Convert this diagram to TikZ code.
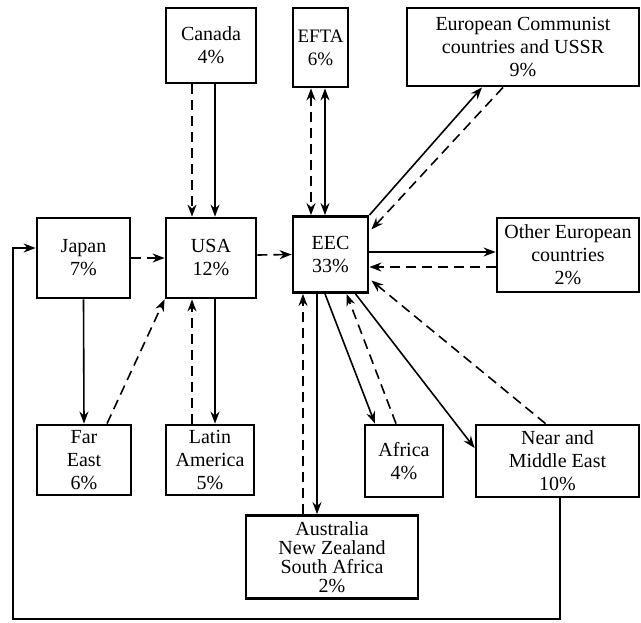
\documentclass[tikz,border=0pt]{standalone}
\usepackage{fontspec}
\setmainfont{Liberation Serif}
\usepackage{tikz}
\usetikzlibrary{arrows.meta,calc,positioning}

\tikzset{
  region/.style={draw, line width=1.4pt, align=center, inner sep=0pt,
    font=\fontsize{10}{11.5}\selectfont},
  flow/.style={-{Stealth[length=6pt,width=4.5pt]}, line width=0.8pt},
  flowd/.style={flow, dash pattern=on 5pt off 3pt},
  twoway/.style={{Stealth[length=6pt,width=4.5pt]}-{Stealth[length=6pt,width=4.5pt]}, line width=0.8pt},
}

\begin{document}
\begin{tikzpicture}[x=0.5pt, y=-0.5pt]
  \useasboundingbox (0,0) rectangle (641,622);

  % top row
  \node[region, minimum width=45pt, minimum height=37.5pt] (canada) at (211,45.5) {Canada\\4\%};
  \node[region, minimum width=27.5pt, minimum height=39.5pt, font=\fontsize{9.5}{11.5}\selectfont] (efta) at (320.5,47.5) {EFTA\\6\%};
  \node[region, minimum width=116pt, minimum height=39pt] (eurcomm) at (523,47) {European Communist\\countries and USSR\\9\%};

  % middle row
  \node[region, minimum width=46.5pt, minimum height=40pt] (japan) at (83.5,258) {Japan\\7\%};
  \node[region, minimum width=45pt, minimum height=40pt] (usa) at (211,258) {USA\\12\%};
  \node[region, minimum width=37.5pt, minimum height=38pt] (eec) at (330.5,254.5) {EEC\\33\%};
  \node[region, minimum width=71pt, minimum height=37pt] (other) at (568,255) {Other European\\countries\\2\%};

  % bottom rows
  \node[region, minimum width=47pt, minimum height=35pt] (fareast) at (84,460) {Far\\East\\6\%};
  \node[region, minimum width=44pt, minimum height=35pt] (latin) at (210,460) {Latin\\America\\5\%};
  \node[region, minimum width=39pt, minimum height=36pt] (africa) at (404,461) {Africa\\4\%};
  \node[region, minimum width=81.5pt, minimum height=36pt] (neareast) at (557.5,461) {Near and\\Middle East\\10\%};
  \node[region, minimum width=86pt, minimum height=41.5pt, font=\fontsize{10}{9.5}\selectfont] (aus) at (332,557) {Australia\\New Zealand\\South Africa\\2\%};

  \coordinate (loopcorner) at (13,619);

  % links around USA
  \draw[flowd] ($(canada.south)+(-19,0)$) -- ($(usa.north)+(-19,0)$);
  \draw[flow] ($(canada.south)+(4,0)$) -- ($(usa.north)+(4,0)$);
  \draw[flowd] (japan.east) -- (usa.west);
  \draw[flowd] ($(usa.east)+(0,-3)$) -- (eec.west);
  \draw[flow] (japan.south) -- (fareast.north);
  \draw[flowd] ($(fareast.north)+(23,0)$) -- (usa.south west);
  \draw[flowd] ($(latin.north)+(-18,0)$) -- ($(usa.south)+(-19,0)$);
  \draw[flow] ($(usa.south)+(4,0)$) -- ($(latin.north)+(5,0)$);

  % links around EEC
  \draw[twoway, dash pattern=on 5pt off 3pt] ($(efta.south)+(-9.5,0)$) -- ($(eec.north)+(-19.5,0)$);
  \draw[twoway] ($(efta.south)+(4.5,0)$) -- ($(eec.north)+(-5.5,0)$);
  \draw[flow] (eec.north east) -- ($(eurcomm.south)+(-41,0)$);
  \draw[flowd] ($(eurcomm.south)+(-20,0)$) -- ($(eec.east)+(2,-25)$);
  \draw[flow] ($(eec.east)+(0,-2.5)$) -- ($(other.west)+(0,-3)$);
  \draw[flowd] ($(other.west)+(0,12)$) -- ($(eec.east)+(0,12.5)$);
  \draw[flowd] ($(aus.north)+(-29,0)$) -- ($(eec.south)+(-27.5,0)$);
  \draw[flow] ($(eec.south)+(-13.5,0)$) -- ($(aus.north)+(-15,0)$);
  \draw[flow] ($(eec.south)+(-5.5,0)$) -- ($(africa.north)+(-29,0)$);
  \draw[flowd] ($(africa.north)+(-8,0)$) -- ($(eec.south)+(16,0)$);
  \draw[flow] ($(eec.south)+(25,0)$) -- ($(neareast.west)+(0,-13)$);
  \draw[flowd] ($(neareast.north)+(-12,0)$) -- ($(eec.east)+(2,26)$);

  % return loop to Japan
  \draw[flow] ($(neareast.south)+(2.5,0)$) |- (loopcorner) |- ($(japan.west)+(0,-10)$);
\end{tikzpicture}
\end{document}
